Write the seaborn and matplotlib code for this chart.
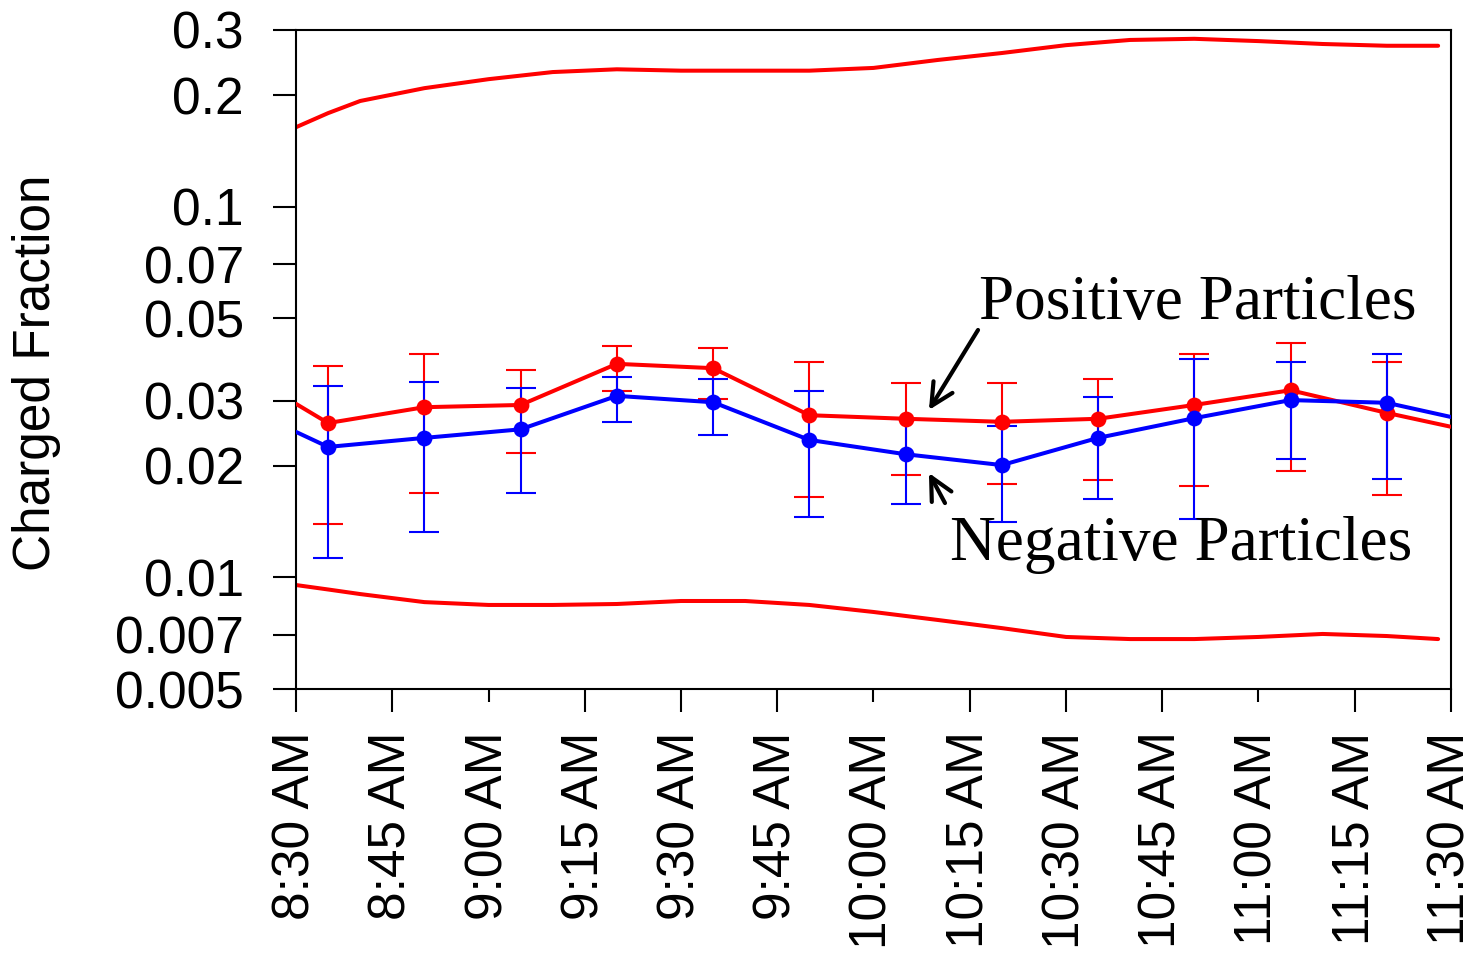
import matplotlib
matplotlib.use("Agg")
import numpy as np
import pandas as pd
import seaborn as sns
import matplotlib.pyplot as plt
from matplotlib.ticker import NullLocator

# ---- data ----
sample_times = ["8:35", "8:50", "9:05", "9:20", "9:35", "9:50",
                "10:05", "10:20", "10:35", "10:50", "11:05", "11:20"]

pos_frac = [0.0261, 0.0288, 0.0292, 0.0377, 0.0367, 0.0274,
            0.0268, 0.0263, 0.0268, 0.0292, 0.0320, 0.0278]
pos_hi = [0.0372, 0.0401, 0.0363, 0.0421, 0.0416, 0.0381,
          0.0335, 0.0335, 0.0343, 0.0401, 0.0429, 0.0381]
pos_lo = [0.0139, 0.0169, 0.0217, 0.0318, 0.0303, 0.0165,
          0.0189, 0.0179, 0.0183, 0.0176, 0.0194, 0.0167]

neg_frac = [0.0225, 0.0238, 0.0251, 0.0309, 0.0297, 0.0235,
            0.0215, 0.0201, 0.0238, 0.0269, 0.0301, 0.0296]
neg_hi = [0.0328, 0.0337, 0.0324, 0.0347, 0.0343, 0.0318,
          0.0268, 0.0256, 0.0307, 0.0389, 0.0381, 0.0401]
neg_lo = [0.0113, 0.0133, 0.0169, 0.0263, 0.0242, 0.0146,
          0.0158, 0.0141, 0.0163, 0.0144, 0.0209, 0.0184]

# values of the connecting lines where they meet the window edges
edge_times = ["8:30", "11:30"]
pos_edges = [0.0294, 0.0255]
neg_edges = [0.0247, 0.0271]

# theoretical bounds
bound_times = ["8:30", "8:35", "8:40", "8:50", "9:00", "9:10", "9:20", "9:30",
               "9:40", "9:50", "10:00", "10:10", "10:20", "10:30", "10:40",
               "10:50", "11:00", "11:10", "11:20", "11:28"]
upper_bound = [0.164, 0.179, 0.193, 0.209, 0.221, 0.231, 0.235, 0.233, 0.233,
               0.233, 0.237, 0.249, 0.260, 0.273, 0.282, 0.284, 0.280,
               0.275, 0.272, 0.272]
lower_bound = [0.00954, 0.00928, 0.00902, 0.00858, 0.00843, 0.00843, 0.00848,
               0.00864, 0.00864, 0.00843, 0.00807, 0.00768, 0.00730, 0.00691,
               0.00682, 0.00682, 0.00691, 0.00704, 0.00695, 0.00682]

xtick_times = ["8:30", "8:45", "9:00", "9:15", "9:30", "9:45", "10:00",
               "10:15", "10:30", "10:45", "11:00", "11:15", "11:30"]
ytick_vals = [0.005, 0.007, 0.01, 0.02, 0.03, 0.05, 0.07, 0.1, 0.2, 0.3]
ytick_labels = ["0.005", "0.007", "0.01", "0.02", "0.03", "0.05", "0.07",
                "0.1", "0.2", "0.3"]


def to_min(s):
    h, m = s.split(":")
    return int(h) * 60 + int(m)


sns.set_theme(style="white")
plt.rcParams["font.family"] = ["Liberation Sans", "DejaVu Sans"]

fig = plt.figure(figsize=(14.75, 9.55), dpi=100)
ax = fig.add_axes([0.2007, 0.2785, 0.7830, 0.6901])

t_pts = [to_min(s) for s in sample_times]
t_edge = [to_min(s) for s in edge_times]

pos_line = pd.DataFrame({"t": [t_edge[0]] + t_pts + [t_edge[1]],
                         "v": [pos_edges[0]] + pos_frac + [pos_edges[1]]})
neg_line = pd.DataFrame({"t": [t_edge[0]] + t_pts + [t_edge[1]],
                         "v": [neg_edges[0]] + neg_frac + [neg_edges[1]]})
bounds = pd.DataFrame({"t": [to_min(s) for s in bound_times],
                       "upper": upper_bound, "lower": lower_bound})

red, blue = "#ff0000", "#0000ff"

# bounds
sns.lineplot(data=bounds, x="t", y="upper", color=red, lw=2.9, ax=ax,
             estimator=None, legend=False)
sns.lineplot(data=bounds, x="t", y="lower", color=red, lw=2.9, ax=ax,
             estimator=None, legend=False)

# positive particles
pos = np.array(pos_frac)
ax.errorbar(t_pts, pos, yerr=[pos - np.array(pos_lo), np.array(pos_hi) - pos],
            fmt="none", ecolor=red, elinewidth=1.5, capsize=11, capthick=1.5,
            zorder=3)
sns.lineplot(data=pos_line, x="t", y="v", color=red, lw=2.9, ax=ax,
             estimator=None, legend=False, zorder=4)
sns.scatterplot(x=t_pts, y=pos_frac, color=red, s=130, edgecolor=red,
                linewidth=0, ax=ax, legend=False, zorder=5)

# negative particles
neg = np.array(neg_frac)
ax.errorbar(t_pts, neg, yerr=[neg - np.array(neg_lo), np.array(neg_hi) - neg],
            fmt="none", ecolor=blue, elinewidth=1.5, capsize=11, capthick=1.5,
            zorder=3)
sns.lineplot(data=neg_line, x="t", y="v", color=blue, lw=2.9, ax=ax,
             estimator=None, legend=False, zorder=4)
sns.scatterplot(x=t_pts, y=neg_frac, color=blue, s=130, edgecolor=blue,
                linewidth=0, ax=ax, legend=False, zorder=5)

# axes
ax.set_yscale("log")
ax.set_ylim(0.005, 0.3)
ax.set_xlim(to_min("8:30"), to_min("11:30"))
ax.yaxis.set_minor_locator(NullLocator())
ax.set_yticks(ytick_vals)
ax.set_yticklabels(ytick_labels)
ax.set_xticks([to_min(s) for s in xtick_times])
ax.set_xticklabels([s + " AM" for s in xtick_times], rotation=90)
ax.set_xlabel("")
ax.set_ylabel("")

ax.tick_params(axis="both", which="major", direction="out", length=16.5,
               width=1.5, color="black", labelsize=37, labelcolor="black",
               bottom=True, left=True, top=False, right=False)
ax.tick_params(axis="y", pad=21)
ax.tick_params(axis="x", pad=14)
for tk, s in zip(ax.xaxis.get_major_ticks(), xtick_times):
    if s.endswith(":00"):
        tk.tick1line.set_markersize(9.5)

for side in ["left", "bottom", "top", "right"]:
    ax.spines[side].set_visible(True)
    ax.spines[side].set_color("black")
    ax.spines[side].set_linewidth(1.5)
ax.grid(False)
ax.set_facecolor("white")

fig.text(37 / 1475, 1 - 373 / 955, "Charged Fraction", rotation=90,
         ha="center", va="center", fontsize=37, color="black")

# annotations
arrow_kw = dict(arrowstyle="->", lw=3, color="black", mutation_scale=40,
                shrinkA=0, shrinkB=0)
ax.annotate("", xy=(0.548, 0.4234), xytext=(0.5905, 0.5448),
            xycoords="axes fraction", textcoords="axes fraction",
            arrowprops=arrow_kw)
ax.annotate("", xy=(0.548, 0.3278), xytext=(0.5619, 0.2822),
            xycoords="axes fraction", textcoords="axes fraction",
            arrowprops=arrow_kw)
ax.text(0.5913, 0.5615, "Positive Particles", transform=ax.transAxes,
        ha="left", va="baseline", fontsize=45.5, color="black",
        family=["Liberation Serif", "DejaVu Serif"])
ax.text(0.5662, 0.1958, "Negative Particles", transform=ax.transAxes,
        ha="left", va="baseline", fontsize=45.5, color="black",
        family=["Liberation Serif", "DejaVu Serif"])

fig.savefig("out.png", dpi=100, facecolor="white")
